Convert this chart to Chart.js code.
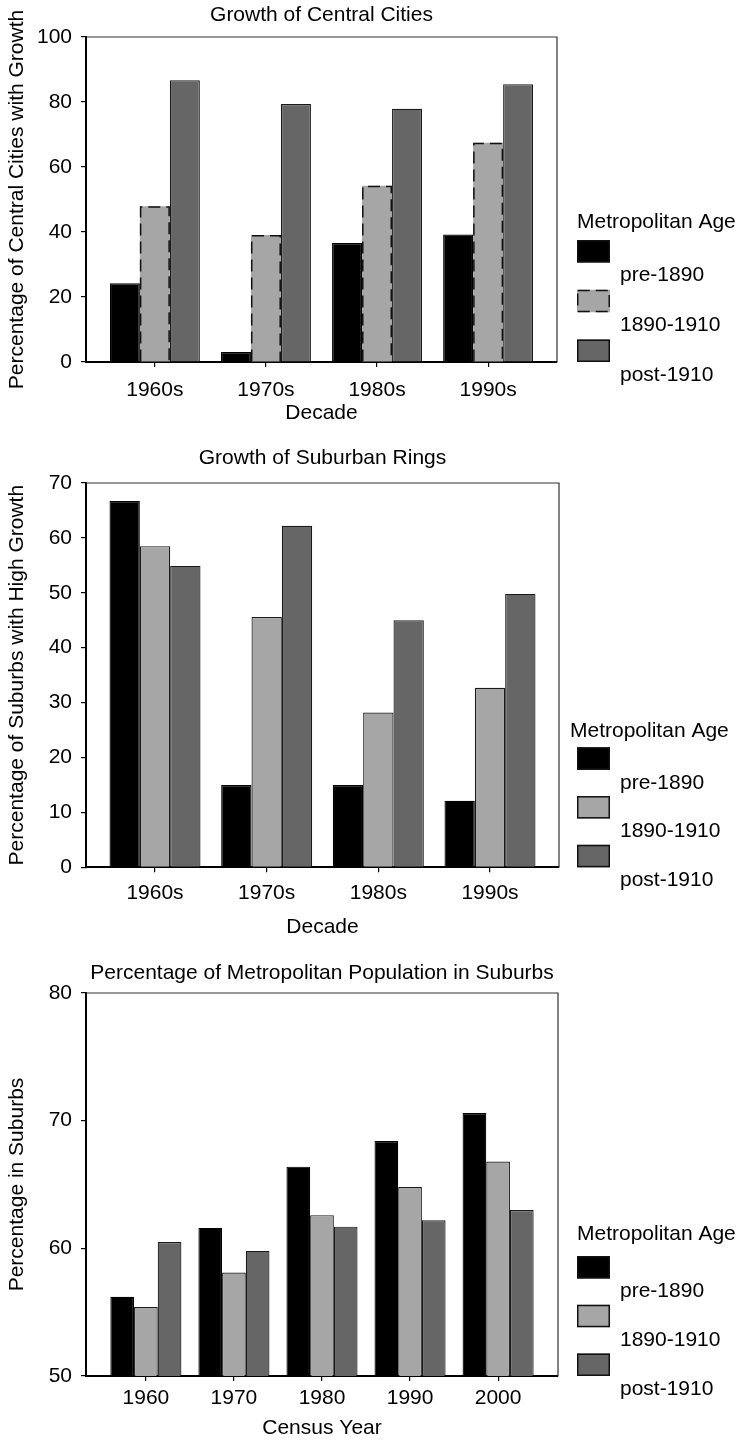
<!DOCTYPE html>
<html>
<head>
<meta charset="utf-8">
<script src="https://cdn.jsdelivr.net/npm/chart.js@4.4.0/dist/chart.umd.min.js"></script>
<style>
  html, body { margin: 0; padding: 0; background: #fff; }
  .panel { position: absolute; left: 0; width: 740px; }
</style>
</head>
<body>
<div class="panel" style="top:0px;height:430px"><canvas id="central" width="740" height="430"></canvas></div>
<div class="panel" style="top:430px;height:514px"><canvas id="suburban" width="740" height="514"></canvas></div>
<div class="panel" style="top:944px;height:497px"><canvas id="share" width="740" height="497"></canvas></div>
<script>
// series (metropolitan age groups)
const seriesNames = ['pre-1890', '1890-1910', 'post-1910'];

// Growth of Central Cities
const decades = ['1960s', '1970s', '1980s', '1990s'];
const centralPre = [24.2, 3.1, 36.6, 39.2];
const centralMid = [47.9, 39.1, 54.2, 67.5];
const centralPost = [86.7, 79.4, 77.9, 85.5];
const centralTicks = [0, 20, 40, 60, 80, 100];

// Growth of Suburban Rings
const suburbPre = [66.7, 15.0, 15.0, 12.1];
const suburbMid = [58.5, 45.6, 28.2, 32.7];
const suburbPost = [54.9, 62.2, 45.0, 49.8];
const suburbTicks = [0, 10, 20, 30, 40, 50, 60, 70];

// Percentage of Metropolitan Population in Suburbs
const censusYears = ['1960', '1970', '1980', '1990', '2000'];
const sharePre = [56.2, 61.6, 66.4, 68.4, 70.6];
const shareMid = [55.4, 58.1, 62.6, 64.8, 66.8];
const sharePost = [60.5, 59.8, 61.7, 62.2, 63.0];
const shareTicks = [50, 60, 70, 80];

const FONT = "'Liberation Sans', Arial, Helvetica, sans-serif";
const seriesFill = ['#000000', '#a6a6a6', '#666666'];
const txt = { family: FONT, size: 21, lineHeight: 1.2 };

// category axis whose outer margin (in category units) can be set
class EdgeCategory extends Chart.CategoryScale {
  buildTicks() {
    const ticks = super.buildTicks();
    const e = this.options.edge;
    if (e != null) {
      this._startValue = this.min - e;
      this._valueRange = (this.max - this.min) + 2 * e;
    }
    return ticks;
  }
}
EdgeCategory.id = 'edgeCategory';
EdgeCategory.defaults = Chart.CategoryScale.defaults;
Chart.register(EdgeCategory);

// top/right edges of the box + chart title
const frame = {
  id: 'frame',
  afterDraw(chart, args, o) {
    const { ctx, chartArea: a } = chart;
    ctx.save();
    ctx.strokeStyle = '#333';
    ctx.lineWidth = 1.2;
    ctx.beginPath();
    ctx.moveTo(a.left, a.top);
    ctx.lineTo(a.right, a.top);
    ctx.lineTo(a.right, a.bottom);
    ctx.stroke();
    ctx.fillStyle = '#000';
    ctx.font = `21px ${FONT}`;
    ctx.textAlign = 'center';
    ctx.textBaseline = 'middle';
    ctx.fillText(o.title, (a.left + a.right) / 2, a.top - o.gap);
    ctx.restore();
  }
};

// dashed outline for the 1890-1910 bars of the first panel
const dashedBars = {
  id: 'dashedBars',
  afterDatasetsDraw(chart) {
    const { ctx } = chart;
    chart.data.datasets.forEach((ds, di) => {
      if (!ds.dashed) return;
      chart.getDatasetMeta(di).data.forEach(bar => {
        const { x, y, base, width } = bar.getProps(['x', 'y', 'base', 'width'], true);
        const l = x - width / 2 + 0.75, r = x + width / 2 - 0.75;
        ctx.save();
        ctx.setLineDash([12, 6]);
        ctx.lineWidth = 1.5;
        ctx.strokeStyle = '#111';
        ctx.beginPath();
        ctx.moveTo(l, base);
        ctx.lineTo(l, y + 0.75);
        ctx.lineTo(r, y + 0.75);
        ctx.lineTo(r, base);
        ctx.stroke();
        ctx.restore();
      });
    });
  }
};

// legend on the right: title, then box with the label below-right of it
const ageLegend = {
  id: 'ageLegend',
  afterDraw(chart, args, o) {
    const { ctx, chartArea: a } = chart;
    const bw = 33, bh = 22.5;
    const sets = chart.data.datasets;
    const firstTop = a.bottom - bh - (sets.length - 1) * o.step;
    ctx.save();
    ctx.font = `21px ${FONT}`;
    ctx.textBaseline = 'middle';
    ctx.textAlign = 'left';
    ctx.fillStyle = '#000';
    ctx.fillText(o.title, o.titleX, firstTop - o.titleDy);
    sets.forEach((ds, i) => {
      const top = firstTop + i * o.step;
      ctx.fillStyle = ds.backgroundColor;
      ctx.fillRect(o.x, top, bw, bh);
      ctx.lineWidth = 1.5;
      ctx.strokeStyle = '#111';
      if (ds.dashed) ctx.setLineDash([12, 6]);
      ctx.strokeRect(o.x + 0.75, top + 0.75, bw - 1.5, bh - 1.5);
      ctx.setLineDash([]);
      ctx.fillStyle = '#000';
      ctx.fillText(ds.label, o.x + 43, top + 35.5);
    });
    ctx.restore();
  }
};

function groupedBars(id, o) {
  new Chart(document.getElementById(id), {
    type: 'bar',
    data: {
      labels: o.labels,
      datasets: o.series.map((vals, i) => ({
        label: seriesNames[i],
        data: vals,
        backgroundColor: seriesFill[i],
        borderColor: i === 0 ? '#000' : '#1a1a1a',
        borderWidth: (o.dashed && i === 1) ? 0 : 1.2,
        dashed: !!(o.dashed && i === 1),
        categoryPercentage: o.group,
        barPercentage: 1
      }))
    },
    options: {
      responsive: false,
      animation: false,
      layout: { padding: { top: o.padTop, right: o.padRight, left: 0, bottom: 0 } },
      plugins: {
        legend: { display: false },
        tooltip: { enabled: false },
        frame: { title: o.title, gap: o.titleGap },
        ageLegend: { title: 'Metropolitan Age', x: 577, titleX: o.legendTitleX, titleDy: o.legendTitleDy, step: o.legendStep }
      },
      scales: {
        x: {
          type: 'edgeCategory',
          edge: o.edge,
          offset: true,
          ticks: { autoSkip: false, maxRotation: 0, color: '#000', font: txt, padding: o.xPad },
          grid: { offset: false, drawOnChartArea: false, drawTicks: true, tickLength: 5, color: '#000', lineWidth: 1.2 },
          border: { display: true, color: '#000', width: 2 },
          title: { display: true, text: o.xTitle, color: '#000', font: txt, padding: { top: 0, bottom: o.xTitlePad } },
          afterFit: s => { s.height = o.xHeight; }
        },
        y: {
          min: o.yTicks[0],
          max: o.yTicks[o.yTicks.length - 1],
          afterBuildTicks: s => { s.ticks = o.yTicks.map(v => ({ value: v })); },
          ticks: { color: '#000', font: txt, padding: 9 },
          grid: { drawOnChartArea: false, drawTicks: true, tickLength: 5, color: '#000', lineWidth: 1.2 },
          border: { display: true, color: '#000', width: 2 },
          title: { display: true, text: o.yTitle, color: '#000', font: txt, padding: { top: 4.4, bottom: 0 } },
          afterFit: s => { s.width = 86; }
        }
      }
    },
    plugins: [dashedBars, frame, ageLegend]
  });
}

groupedBars('central', {
  title: 'Growth of Central Cities', titleGap: 22,
  labels: decades, series: [centralPre, centralMid, centralPost], yTicks: centralTicks,
  xTitle: 'Decade', yTitle: 'Percentage of Central Cities with Growth',
  dashed: true, edge: 0.62, group: 0.81,
  padTop: 37, padRight: 183, xHeight: 68, xPad: 10.4, xTitlePad: 4.4,
  legendTitleX: 577, legendTitleDy: 18, legendStep: 49.75
});

groupedBars('suburban', {
  title: 'Growth of Suburban Rings', titleGap: 25,
  labels: decades, series: [suburbPre, suburbMid, suburbPost], yTicks: suburbTicks,
  xTitle: 'Decade', yTitle: 'Percentage of Suburbs with High Growth',
  dashed: false, edge: 0.618, group: 0.815,
  padTop: 53, padRight: 181, xHeight: 76.7, xPad: 8.4, xTitlePad: 4.1,
  legendTitleX: 570, legendTitleDy: 15.6, legendStep: 48.75
});

groupedBars('share', {
  title: 'Percentage of Metropolitan Population in Suburbs', titleGap: 20,
  labels: censusYears, series: [sharePre, shareMid, sharePost], yTicks: shareTicks,
  xTitle: 'Census Year', yTitle: 'Percentage in Suburbs',
  dashed: false, edge: 0.68, group: 0.807,
  padTop: 49, padRight: 182, xHeight: 65, xPad: 4.4, xTitlePad: 0.4,
  legendTitleX: 577, legendTitleDy: 22, legendStep: 48.75
});
</script>
</body>
</html>
